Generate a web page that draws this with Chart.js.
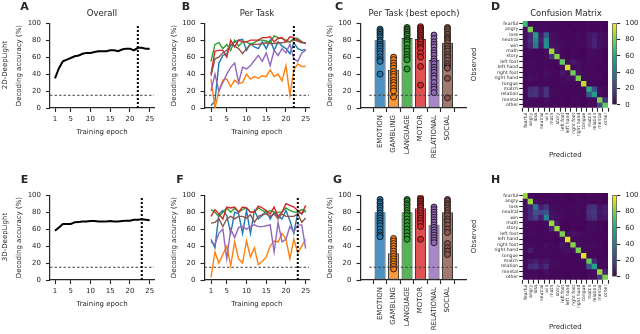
<!DOCTYPE html>
<html><head><meta charset="utf-8">
<script src="https://cdn.jsdelivr.net/npm/chart.js@4.4.0/dist/chart.umd.min.js"></script>
<style>
html,body{margin:0;padding:0;background:#fff;}
#fig{position:relative;width:640px;height:334px;overflow:hidden;font-family:'DejaVu Sans',sans-serif;color:#262626;background:#fff;}
#fig canvas{position:absolute;}
.lbl{position:absolute;white-space:nowrap;transform:translate(-50%,-50%);line-height:1;color:#262626;filter:grayscale(1);-webkit-font-smoothing:antialiased;}
</style></head>
<body><div id="fig"></div>
<script>
// ---------------- DATA ----------------
const epochs = [1,2,3,4,5,6,7,8,9,10,11,12,13,14,15,16,17,18,19,20,21,22,23,24,25];
const xTickValues = [1,5,10,15,20,25];
const yTickValues = [0,20,40,60,80,100];
const colorbarTicks = [0,20,40,60,80,100];
const chanceLevel = 15;
const bestEpoch2D = 22;
const bestEpoch3D = 23;

const overall2D = [35,47,55,57,59,61,62,64,65,65,66,67,67,67,68,68,67,69,70,70,68,71,71,70,70];
const overall3D = [58,62,66,66,66,68,68.5,69,69,69.5,69.5,69,69,69,69.5,69,69,69.5,70,70,71,71,71.5,71,70.5];

const taskNames = ['EMOTION','GAMBLING','LANGUAGE','MOTOR','RELATIONAL','SOCIAL'];
const taskColors = ['#1f77b4','#ff7f0e','#2ca02c','#d62728','#9467bd','#8c564b'];

const emotion2D    = [3,8,53,62,64,74,78,80,81,68,76,72,70,78,70,80,68,78,73,70,64,77,70,68,69];
const gambling2D   = [34,0,20,33,34,25,33,29,30,40,34,37,35,38,37,45,37,40,32,50,15,45,52,49,49];
const language2D   = [55,75,77,70,75,68,80,73,78,78,75,77,80,80,79,77,85,83,82,80,78,82,82,78,76];
const motor2D      = [40,67,68,68,60,80,72,80,78,78,80,80,80,83,83,84,78,82,83,78,84,83,80,78,76];
const relational2D = [20,40,20,30,40,48,53,30,48,46,50,56,62,55,65,50,68,62,70,65,75,58,55,65,68];
const social2D     = [38,58,60,65,68,75,73,70,64,70,75,75,75,76,77,76,76,77,77,78,78,80,79,77,77];

const emotion3D    = [48,38,78,82,76,55,80,78,55,82,55,82,72,76,82,72,80,75,72,82,70,55,80,78,83];
const gambling3D   = [3,33,20,30,40,17,45,25,20,46,27,38,18,22,27,40,46,45,55,48,25,48,32,40,48];
const language3D   = [83,80,75,80,85,80,85,80,83,85,80,80,85,82,80,82,80,80,80,85,82,80,80,83,80];
const motor3D      = [75,83,78,72,86,85,86,80,86,85,80,80,87,85,82,78,86,75,80,90,88,86,82,78,88];
const relational3D = [45,42,55,60,25,60,50,62,63,60,63,65,63,63,64,65,33,68,45,48,63,57,65,65,37];
const social3D     = [67,68,72,63,72,75,72,75,75,73,77,68,75,77,78,75,78,72,78,75,75,75,78,68,73];

const bestMean2D = [80,45,82.5,81.5,56.5,77];
const bestMean3D = [80,31.5,80,84.5,64.5,80];

const subjEmotion2D    = [93,91,89,87,85,83,80,78,75,73,70,67,64,60,57,55,40];
const subjGambling2D   = [60,57,53,50,47,43,40,37,33,30,27,23,20,13];
const subjLanguage2D   = [95,93,91,89,87,85,82,80,78,75,70,67,63,60,57,46];
const subjMotor2D      = [96,94,92,90,88,86,84,82,80,78,75,72,70,65,60,49,27];
const subjRelational2D = [86,82,78,75,72,68,65,62,58,55,52,48,45,42,38,35,30,25,22,18];
const subjSocial2D     = [95,93,90,87,84,82,80,77,73,70,67,63,60,56,52,49,47,35,12];

const subjEmotion3D    = [95,92,90,87,85,82,79,76,73,70,67,64,60,56,53,51];
const subjGambling3D   = [49,46,43,40,37,34,31,28,25,22,19,16,13];
const subjLanguage3D   = [95,93,90,88,85,82,79,76,72,68,64,60,56,52,48];
const subjMotor3D      = [97,95,93,91,89,87,85,82,79,76,73,70,67,63,48];
const subjRelational3D = [86,83,80,77,74,71,68,65,62,59,56,53,50,47,44];
const subjSocial3D     = [95,93,90,88,85,82,79,76,72,69,65,60,56,43,38,34,30];

const cmLabels = ['fearful','angry','loss','neutral','win','math','story','left foot','left hand','right foot','right hand','tongue','match','relation','mental','other'];

const conf2D = [
 [68,3,2,2,3,3,2,2,1,2,2,1,3,2,2,1],
 [3,80,3,2,3,2,2,2,2,1,2,2,2,2,2,1],
 [4,9,55,6,28,4,3,2,2,2,3,2,6,8,4,3],
 [4,12,45,8,45,4,3,3,2,2,3,2,5,10,4,3],
 [4,10,40,6,50,5,4,3,2,2,2,2,5,9,4,3],
 [2,3,2,2,3,85,6,2,1,2,2,1,3,3,2,1],
 [2,2,2,2,3,15,82,2,1,2,1,1,3,3,2,1],
 [2,3,3,2,3,2,2,75,3,6,4,2,3,2,2,1],
 [1,2,2,2,2,2,1,3,92,2,4,2,2,2,1,1],
 [2,3,3,2,4,2,2,7,3,78,4,3,3,3,2,1],
 [2,4,3,2,3,2,2,3,5,4,80,2,3,2,2,1],
 [1,2,2,2,2,2,2,2,2,2,2,90,2,2,1,1],
 [2,12,14,6,14,3,3,2,2,2,2,2,62,24,4,2],
 [2,14,16,6,15,3,3,2,2,2,2,2,28,55,3,2],
 [2,3,3,2,4,2,2,2,1,2,2,1,3,3,80,16],
 [2,3,3,2,3,2,2,2,1,2,2,1,3,3,20,75]
];
const conf3D = [
 [85,3,2,2,2,2,2,2,1,2,2,1,2,2,2,1],
 [3,85,3,2,3,2,2,2,2,1,2,2,2,2,2,1],
 [4,10,40,8,15,3,3,2,2,2,3,2,12,14,5,8],
 [4,12,25,20,25,4,3,3,2,2,3,2,14,16,6,8],
 [4,12,20,8,45,5,4,3,2,2,2,2,12,14,5,6],
 [2,3,2,2,3,85,8,2,1,2,2,1,3,3,2,1],
 [2,2,2,2,3,10,85,2,1,2,1,1,3,3,2,1],
 [2,3,3,2,3,2,2,80,3,5,4,2,3,2,2,1],
 [1,2,2,2,2,2,1,3,95,2,3,2,2,2,1,1],
 [2,3,3,2,4,2,2,6,3,82,4,3,3,3,2,1],
 [2,8,3,2,3,2,2,3,4,4,80,2,3,2,2,1],
 [1,2,2,2,2,2,2,2,2,2,2,95,2,2,1,1],
 [2,6,8,4,6,3,3,2,2,2,2,2,75,12,3,2],
 [2,12,14,6,12,3,3,2,2,2,2,2,25,58,3,2],
 [2,3,3,2,4,2,2,2,1,2,2,1,3,3,85,10],
 [2,3,3,2,3,2,2,2,1,2,2,1,3,3,15,80]
];

// ---------------- STYLE HELPERS ----------------
const FONT = 'DejaVu Sans';
const INK = '#262626';
const LH = 7 * 1.2;
const fig = document.getElementById('fig');

const VIR = [[68,1,84],[72,36,117],[65,68,135],[53,95,141],[42,120,142],[33,145,140],[34,168,132],[68,191,112],[122,209,81],[189,223,38],[253,231,37]];
function viridis(t){
  t = Math.max(0, Math.min(1, t));
  const p = t * 10, i = Math.min(9, Math.floor(p)), f = p - i;
  const a = VIR[i], b = VIR[i+1];
  return 'rgb(' + [0,1,2].map(k => Math.round(a[k] + (b[k]-a[k])*f)).join(',') + ')';
}
function withAlpha(hex, a){
  const n = parseInt(hex.slice(1), 16);
  return 'rgba(' + ((n>>16)&255) + ',' + ((n>>8)&255) + ',' + (n&255) + ',' + a + ')';
}
function makeCanvas(b){
  const c = document.createElement('canvas');
  c.width = b.w; c.height = b.h;
  c.style.left = b.x + 'px'; c.style.top = b.y + 'px';
  c.style.width = b.w + 'px'; c.style.height = b.h + 'px';
  fig.appendChild(c);
  return c;
}
function addText(txt, x, y, size, opts){
  opts = opts || {};
  const d = document.createElement('div');
  d.className = 'lbl';
  d.textContent = txt;
  d.style.left = x + 'px'; d.style.top = y + 'px';
  d.style.fontSize = size + 'px';
  if (opts.bold) d.style.fontWeight = 'bold';
  if (opts.rotate) d.style.transform = 'translate(-50%,-50%) rotate(-90deg)';
  fig.appendChild(d);
}
const gridStyle = len => ({display:true, drawOnChartArea:false, drawTicks:true, tickLength:len, tickWidth:1.1, tickColor:INK, color:INK});
const borderStyle = {display:true, color:INK, width:1.2};
const tickFont = {family:FONT, size:7};

function baseOptions(box, area, extraPad){
  return {
    responsive:false, animation:false, devicePixelRatio:1,
    layout:{autoPadding:false, padding:Object.assign({left:0, top:area.t - box.y, right:box.x + box.w - area.r, bottom:0}, extraPad || {})},
    plugins:{legend:{display:false}, tooltip:{enabled:false}, title:{display:false}},
    elements:{line:{tension:0}, point:{radius:0}}
  };
}
function accuracyAxis(box, area, yTitleX){
  return {
    type:'linear', min:0, max:100,
    afterBuildTicks: s => { s.ticks = yTickValues.map(v => ({value:v})); },
    afterFit: s => { s.width = area.l - box.x; },
    grid: gridStyle(4), border: borderStyle,
    ticks:{font:tickFont, color:INK, padding:5},
    title:{display:true, text:'Decoding accuracy (%)', font:tickFont, color:INK,
           padding:{top: yTitleX - box.x - LH/2, bottom:0}}
  };
}
function epochAxis(box, area, xMin, xMax, xTitleY){
  return {
    type:'linear', min:xMin, max:xMax,
    afterBuildTicks: s => { s.ticks = xTickValues.map(v => ({value:v})); },
    afterFit: s => { s.height = box.y + box.h - area.b; },
    grid: gridStyle(4), border: borderStyle,
    ticks:{font:tickFont, color:INK, padding:3, maxRotation:0, autoSkip:false},
    title:{display:true, text:'Training epoch', font:tickFont, color:INK,
           padding:{top:0, bottom: box.y + box.h - xTitleY - LH/2}}
  };
}
function seriesLine(values, color, width){
  return {type:'line', data: epochs.map((e,i) => ({x:e, y:values[i]})), borderColor:color, borderWidth:width, pointRadius:0, fill:false};
}
function chanceLine(xMin, xMax){
  return {type:'line', data:[{x:xMin, y:chanceLevel},{x:xMax, y:chanceLevel}], borderColor:'#404040', borderWidth:1, borderDash:[2.5,2], pointRadius:0, fill:false};
}
function bestLine(ep){
  return {type:'line', data:[{x:ep, y:0},{x:ep, y:98}], borderColor:'#000', borderWidth:2, borderDash:[2,2], pointRadius:0, fill:false};
}

// ---------------- PANELS ----------------
function overallPanel(dy, values, best){
  const box = {x:12, y:14+dy, w:148, h:126};
  const area = {l:50, t:22+dy, r:154, b:108+dy};
  const xMin = -0.27, xMax = 26.1;
  const opt = baseOptions(box, area);
  opt.scales = {x: epochAxis(box, area, xMin, xMax, 132+dy), y: accuracyAxis(box, area, 19.5)};
  new Chart(makeCanvas(box), {type:'line', data:{datasets:[
    bestLine(best), chanceLine(xMin, xMax), seriesLine(values, '#000', 2)
  ]}, options:opt});
}
function perTaskPanel(dy, series, best){
  const box = {x:165, y:14+dy, w:150, h:126};
  const area = {l:204.5, t:22+dy, r:309, b:108+dy};
  const xMin = -0.65, xMax = 25.84;
  const opt = baseOptions(box, area);
  opt.scales = {x: epochAxis(box, area, xMin, xMax, 132+dy), y: accuracyAxis(box, area, 174.5)};
  const lines = series.map((s,i) => seriesLine(s, taskColors[i], 1.4)).reverse();
  new Chart(makeCanvas(box), {type:'line', data:{datasets:[bestLine(best), chanceLine(xMin, xMax)].concat(lines)}, options:opt});
}
function bestEpochPanel(dy, means, subjects){
  const box = {x:322, y:14+dy, w:148, h:150};
  const area = {l:360.5, t:22+dy, r:466, b:108+dy};
  const xMin = -0.8, xMax = 5.72;
  const opt = baseOptions(box, area);
  opt.scales = {
    x:{type:'linear', min:xMin, max:xMax,
       afterBuildTicks: s => { s.ticks = taskNames.map((n,i) => ({value:i})); },
       afterFit: s => { s.height = box.y + box.h - area.b; },
       grid: gridStyle(4), border: borderStyle,
       ticks:{font:tickFont, color:INK, padding:3, minRotation:90, maxRotation:90, autoSkip:false,
              callback:(v,i) => taskNames[i]}},
    y: accuracyAxis(box, area, 330.5)
  };
  const points = subjects.map((arr,i) => ({type:'scatter', data: arr.map(v => ({x:i, y:v})),
    pointRadius:3, pointBackgroundColor:taskColors[i], pointBorderColor:'#151515', pointBorderWidth:0.9, showLine:false}));
  const bars = {type:'bar', data: means.map((m,i) => ({x:i, y:m})),
    backgroundColor: taskColors.map(c => withAlpha(c, 0.8)), borderColor:'#3a3a3a', borderWidth:1, borderSkipped:false,
    barPercentage:0.82, categoryPercentage:1};
  new Chart(makeCanvas(box), {type:'bar', data:{datasets:[chanceLine(xMin, xMax)].concat(points, [bars])}, options:opt});
}
function confusionPanel(dy, matrix){
  const box = {x:466, y:14+dy, w:146, h:148};
  const area = {l:522.7, t:21+dy, r:609.3, b:107.7+dy};
  const opt = baseOptions(box, area);
  const smallFont = {family:FONT, size:4.6};
  opt.scales = {
    x:{type:'category', stacked:true, offset:true,
       afterFit: s => { s.height = box.y + box.h - area.b; },
       grid: gridStyle(4), border:{display:false},
       ticks:{font:smallFont, color:INK, padding:1, minRotation:90, maxRotation:90, autoSkip:false},
       title:{display:true, text:'Predicted', font:tickFont, color:INK, padding:{top:0, bottom: box.y + box.h - (155+dy) - LH/2}}},
    y:{type:'linear', stacked:true, min:0, max:cmLabels.length, reverse:true,
       afterBuildTicks: s => { s.ticks = cmLabels.map((n,i) => ({value:i+0.5})); },
       afterFit: s => { s.width = area.l - box.x; },
       grid: gridStyle(3.5), border:{display:false},
       ticks:{font:smallFont, color:INK, padding:1, autoSkip:false, callback:(v,i) => cmLabels[i]},
       title:{display:true, text:'Observed', font:tickFont, color:INK, padding:{top: 474 - box.x - LH/2, bottom:0}}}
  };
  const datasets = matrix.map((row,i) => ({type:'bar', label:cmLabels[i], data: row.map(() => 1),
    backgroundColor: row.map(v => viridis(v/100)), borderWidth:0, inflateAmount:0.4,
    barPercentage:1, categoryPercentage:1}));
  new Chart(makeCanvas(box), {type:'bar', data:{labels:cmLabels, datasets:datasets}, options:opt});

  // colorbar
  const cbox = {x:606, y:14+dy, w:34, h:100};
  const carea = {l:612.3, t:21+dy, r:616.7, b:107.7+dy};
  const copt = baseOptions(cbox, carea, {left:carea.l - cbox.x, right:0, bottom:cbox.y + cbox.h - carea.b});
  copt.scales = {
    x:{type:'category', display:false, offset:true},
    y:{type:'linear', position:'right', min:0, max:100,
       afterBuildTicks: s => { s.ticks = colorbarTicks.map(v => ({value:v})); },
       afterFit: s => { s.width = cbox.x + cbox.w - carea.r; },
       grid: gridStyle(3.5), border:{display:false},
       ticks:{font:tickFont, color:INK, padding:5}}
  };
  new Chart(makeCanvas(cbox), {type:'bar', data:{labels:[''], datasets:[{data:[colorbarTicks[colorbarTicks.length-1]],
    backgroundColor: ctx => {
      const a = ctx.chart.chartArea;
      if (!a) return viridis(0.5);
      const g = ctx.chart.ctx.createLinearGradient(0, a.bottom, 0, a.top);
      for (let k = 0; k <= 10; k++) g.addColorStop(k/10, viridis(k/10));
      return g;
    },
    borderColor:INK, borderWidth:0.8, borderSkipped:false, barPercentage:1, categoryPercentage:1}]}, options:copt});
}

overallPanel(0, overall2D, bestEpoch2D);
perTaskPanel(0, [emotion2D, gambling2D, language2D, motor2D, relational2D, social2D], bestEpoch2D);
bestEpochPanel(0, bestMean2D, [subjEmotion2D, subjGambling2D, subjLanguage2D, subjMotor2D, subjRelational2D, subjSocial2D]);
confusionPanel(0, conf2D);

overallPanel(172, overall3D, bestEpoch3D);
perTaskPanel(172, [emotion3D, gambling3D, language3D, motor3D, relational3D, social3D], bestEpoch3D);
bestEpochPanel(172, bestMean3D, [subjEmotion3D, subjGambling3D, subjLanguage3D, subjMotor3D, subjRelational3D, subjSocial3D]);
confusionPanel(172, conf3D);

// ---------------- TEXT ----------------
addText('A', 24.5, 6, 11, {bold:true});
addText('B', 186, 6, 11, {bold:true});
addText('C', 339, 6, 11, {bold:true});
addText('D', 495.5, 6, 11, {bold:true});
addText('E', 24.5, 178.5, 11, {bold:true});
addText('F', 180, 178.5, 11, {bold:true});
addText('G', 337.5, 178.5, 11, {bold:true});
addText('H', 495.5, 179, 11, {bold:true});
addText('Overall', 102, 12.5, 8.5);
addText('Per Task', 257, 12.5, 8.5);
addText('Per Task (best epoch)', 414, 12.5, 8.5);
addText('Confusion Matrix', 566, 13, 8.5);
addText('2D-DeepLight', 4.5, 65, 7, {rotate:true});
addText('3D-DeepLight', 4.5, 237, 7, {rotate:true});
</script>
</body></html>
